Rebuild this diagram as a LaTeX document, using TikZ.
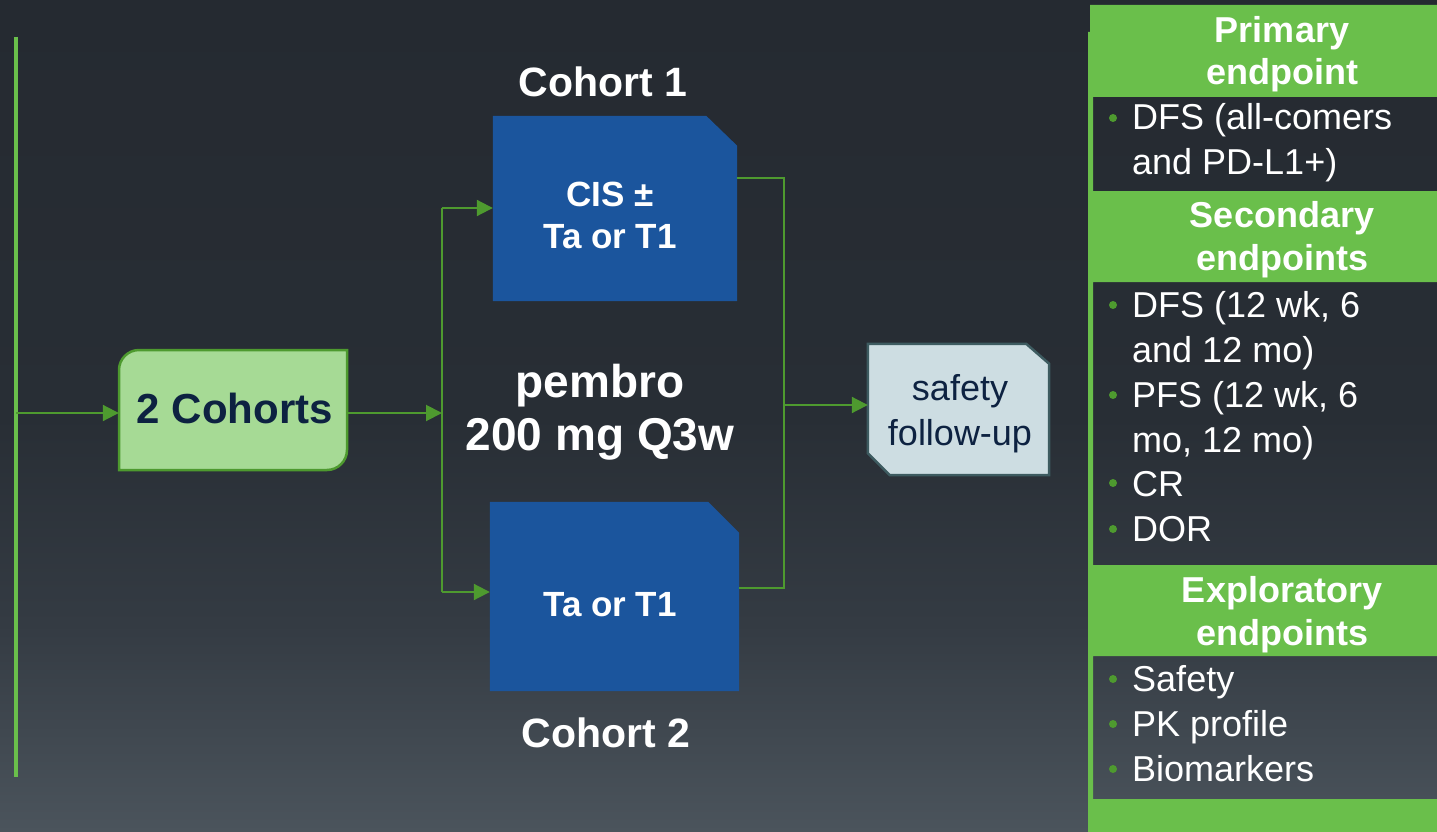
\documentclass[tikz,border=0pt]{standalone}
\usepackage{fontspec}
\setmainfont{Liberation Sans}
\usetikzlibrary{arrows.meta,calc}
\definecolor{bgtop}{HTML}{252A31}
\definecolor{bgmid}{HTML}{282E35}
\definecolor{bgq}{HTML}{343B43}
\definecolor{bgbot}{HTML}{4B545C}
\definecolor{panelgreen}{HTML}{6ABF4B}
\definecolor{linegreen}{HTML}{4E9A2F}
\definecolor{cohfill}{HTML}{A6DA95}
\definecolor{bluebox}{HTML}{1B559D}
\definecolor{safefill}{HTML}{CDDDE2}
\definecolor{safeedge}{HTML}{3D5B60}
\definecolor{navy}{HTML}{0D2241}
\pgfdeclareverticalshading{bgshade}{100bp}{color(0bp)=(bgbot); color(25bp)=(bgbot); color(37.5bp)=(bgq); color(50bp)=(bgmid); color(75bp)=(bgtop); color(100bp)=(bgtop)}
\begin{document}
\begin{tikzpicture}[x=1pt,y=-1pt,
  conn/.style={draw=linegreen,line width=2pt},
  arr/.style={conn,-{Triangle[length=16pt,width=16pt]}},
  lbl/.style={inner sep=0pt,anchor=base,text=white,font=\bfseries\fontsize{41}{49}\selectfont},
  bigw/.style={inner sep=0pt,anchor=base,text=white,font=\bfseries\fontsize{46}{53}\selectfont},
  boxw/.style={inner sep=0pt,anchor=base,text=white,font=\bfseries\fontsize{35}{42}\selectfont},
  hdr/.style={inner sep=0pt,anchor=base,text=white,font=\bfseries\fontsize{36}{43}\selectfont},
  item/.style={inner sep=0pt,anchor=base west,text=white,font=\fontsize{36}{43}\selectfont},
  dot/.style={fill=linegreen}
]
\useasboundingbox (0,0) rectangle (1437,832);
% background
\shade[shading=bgshade] (0,0) rectangle (1437,832);

% right panel with cut-outs
\fill[panelgreen,even odd rule]
  (1090,5) -- (1437,5) -- (1437,832) -- (1088,832) -- (1088,32) -- (1090,32) -- cycle
  (1093,97) rectangle (1437,191)
  (1093,282) rectangle (1437,565)
  (1093,656) rectangle (1437,799);

% left vertical line
\coordinate (lt) at (16,37);
\coordinate (lb) at (16,777);
\coordinate (lm) at (16,413);
\draw[panelgreen,line width=3.5pt] (lt) -- (lb);

% box nodes
\node[inner sep=0pt,minimum width=228pt,minimum height=120pt] (coh) at (233,410) {};
\node[inner sep=0pt,minimum width=244pt,minimum height=185pt] (c1) at (615,208.5) {};
\node[inner sep=0pt,minimum width=249pt,minimum height=189pt] (c2) at (614.5,596.5) {};
\node[inner sep=0pt,minimum width=181pt,minimum height=131pt] (safe) at (958.5,409.5) {};

% 2 Cohorts box (rounded top-left and bottom-right)
\draw[fill=cohfill,draw=linegreen,line width=2.5pt]
  (139,350) -- (347,350) -- (347,450) .. controls (347,461) and (338,470) .. (327,470)
  -- (119,470) -- (119,370) .. controls (119,359) and (128,350) .. (139,350) -- cycle;
\node[inner sep=0pt,anchor=base,text=navy,font=\bfseries\fontsize{42}{50}\selectfont] (cohtxt) at (235,423) {2 Cohorts};

% Cohort 1 box
\fill[bluebox] (c1.north west) -- ([xshift=-31pt]c1.north east) -- ([yshift=-30pt]c1.north east)
  -- (c1.south east) -- (c1.south west) -- cycle;
\node[boxw] (c1a) at (610,206) {CIS ±};
\node[boxw] (c1b) at (610,248) {Ta or T1};

% Cohort 2 box
\fill[bluebox] (c2.north west) -- ([xshift=-31pt]c2.north east) -- ([yshift=-31pt]c2.north east)
  -- (c2.south east) -- (c2.south west) -- cycle;
\node[boxw] (c2a) at (610,616) {Ta or T1};

% safety box
\draw[fill=safefill,draw=safeedge,line width=2.5pt]
  (safe.north west) -- ([xshift=-23pt]safe.north east) -- ([yshift=-20pt]safe.north east)
  -- (safe.south east) -- ([xshift=22pt]safe.south west) -- ([yshift=22pt]safe.south west) -- cycle;
\node[inner sep=0pt,anchor=base,text=navy,font=\fontsize{36}{45}\selectfont] (sa) at (960,400) {safety};
\node[inner sep=0pt,anchor=base,text=navy,font=\fontsize{36}{45}\selectfont] (sb) at (960,445) {follow-up};

% labels
\node[lbl] (lab1) at (603,97) {Cohort 1};
\node[lbl] (lab2) at (606,747) {Cohort 2};
\node[bigw] (pem1) at (600,397) {pembro};
\node[bigw] (pem2) at (600,450) {200 mg Q3w};

% connectors
\coordinate (split) at (442,413);
\coordinate (stop) at (442,208);
\coordinate (sbot) at (442,592);
\coordinate (mtop) at (784,178);
\coordinate (mbot) at (784,588);
\coordinate (merge) at (784,405);
\draw[arr] (lm) -- (lm -| coh.west);
\draw[arr] (coh.east |- split) -- (split);
\draw[conn] (stop) -- (sbot);
\draw[arr] (stop) -- (stop -| c1.west);
\draw[arr] (sbot) -- (sbot -| c2.west);
\draw[conn] (mtop -| c1.east) -- (mtop) -- (mbot) -- (mbot -| c2.east);
\draw[arr] (merge) -- (merge -| safe.west);

% right panel text
\node[hdr] (h1a) at (1282,43) {Primary};
\node[hdr] (h1b) at (1282,85) {endpoint};
\fill[dot] (1113,118) circle[radius=4pt];
\node[item] (p1a) at (1132,130) {DFS (all-comers};
\node[item] (p1b) at (1132,175) {and PD-L1+)};

\node[hdr] (h2a) at (1282,227) {Secondary};
\node[hdr] (h2b) at (1282,270) {endpoints};
\fill[dot] (1113,305) circle[radius=4pt];
\node[item] (s1a) at (1132,317) {DFS (12 wk, 6};
\node[item] (s1b) at (1132,362) {and 12 mo)};
\fill[dot] (1113,395) circle[radius=4pt];
\node[item] (s2a) at (1132,407) {PFS (12 wk, 6};
\node[item] (s2b) at (1132,452) {mo, 12 mo)};
\fill[dot] (1113,483) circle[radius=4pt];
\node[item] (s3) at (1132,496) {CR};
\fill[dot] (1113,529) circle[radius=4pt];
\node[item] (s4) at (1132,541) {DOR};

\node[hdr] (h3a) at (1282,602) {Exploratory};
\node[hdr] (h3b) at (1282,645) {endpoints};
\fill[dot] (1113,679) circle[radius=4pt];
\node[item] (e1) at (1132,691) {Safety};
\fill[dot] (1113,724) circle[radius=4pt];
\node[item] (e2) at (1132,736) {PK profile};
\fill[dot] (1113,769) circle[radius=4pt];
\node[item] (e3) at (1132,781) {Biomarkers};
\end{tikzpicture}
\end{document}
